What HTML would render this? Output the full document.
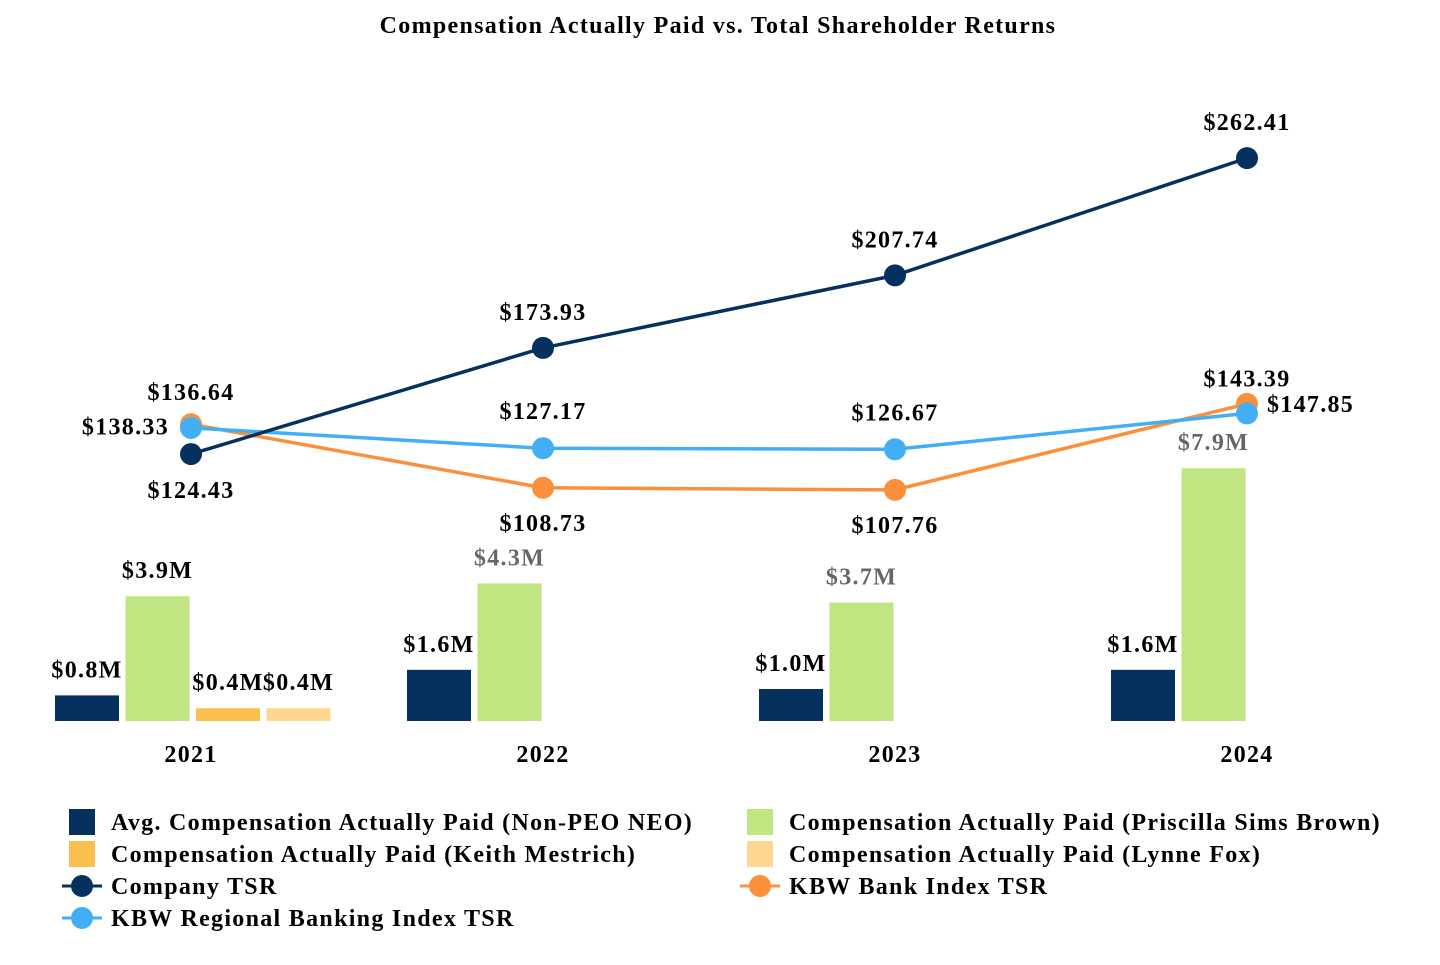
<!DOCTYPE html>
<html><head><meta charset="utf-8"><style>
body{margin:0;background:#fff;}
svg text{font-family:"Liberation Serif",serif;font-weight:bold;letter-spacing:1.3px;}
</style></head><body>
<svg id="chart" width="1440" height="960" xmlns="http://www.w3.org/2000/svg">
<text x="718" y="33" text-anchor="middle" font-size="24">Compensation Actually Paid vs. Total Shareholder Returns</text>
<g id="bars"></g><g id="lines"></g><g id="labels"></g>
<g id="legend" font-size="24">
<rect x="69" y="809" width="26" height="26" fill="#06305e"/>
<text x="111" y="830">Avg. Compensation Actually Paid (Non-PEO NEO)</text>
<rect x="747" y="809" width="26" height="26" fill="#bfe681"/>
<text x="789" y="830">Compensation Actually Paid (Priscilla Sims Brown)</text>
<rect x="69" y="841" width="26" height="26" fill="#fbbf4f"/>
<text x="111" y="862">Compensation Actually Paid (Keith Mestrich)</text>
<rect x="747" y="841" width="26" height="26" fill="#fdd78f"/>
<text x="789" y="862">Compensation Actually Paid (Lynne Fox)</text>
<line x1="62" y1="886" x2="102" y2="886" stroke="#06305e" stroke-width="3"/>
<circle cx="82" cy="886" r="11" fill="#06305e"/>
<text x="111" y="894">Company TSR</text>
<line x1="740" y1="886" x2="780" y2="886" stroke="#fc8f3a" stroke-width="3"/>
<circle cx="760" cy="886" r="11" fill="#fc8f3a"/>
<text x="789" y="894">KBW Bank Index TSR</text>
<line x1="62" y1="918" x2="102" y2="918" stroke="#42aef5" stroke-width="3"/>
<circle cx="82" cy="918" r="11" fill="#42aef5"/>
<text x="111" y="926">KBW Regional Banking Index TSR</text>
</g>
</svg>
<script>
const years=["2021","2022","2023","2024"];
const nonPeo=[0.8,1.6,1.0,1.6];
const brown=[3.9,4.3,3.7,7.9];
const mestrich=[0.4,null,null,null];
const fox=[0.4,null,null,null];
const companyTSR=[124.43,173.93,207.74,262.41];
const kbwBank=[138.33,108.73,107.76,147.85];
const kbwRegional=[136.64,127.17,126.67,143.39];
const NS="http://www.w3.org/2000/svg";
const base=721;
function xC(i){return 191+i*352;}
function yBar(v){return base-v*32;}
function yTsr(v){return base-v*2.145;}
function mk(tag,attrs,parent){const e=document.createElementNS(NS,tag);for(const k in attrs)e.setAttribute(k,attrs[k]);document.getElementById(parent).appendChild(e);return e;}
function txt(x,y,s,anchor,fill,parent){const t=mk('text',{x:x,y:y,'text-anchor':anchor,'font-size':24,fill:fill},parent);t.textContent=s;return t;}
const series=[[nonPeo,"#06305e","non-peo"],[brown,"#bfe681","brown"],[mestrich,"#fbbf4f","mestrich"],[fox,"#fdd78f","fox"]];
years.forEach((yr,i)=>{
  const t=txt(xC(i),762,yr,'middle','#000','labels');
  
  
  series.forEach((s,k)=>{
    const v=s[0][i]; if(v==null)return;
    const x=xC(i)-136+k*70.5;
    const r=mk('rect',{x:x,y:yBar(v),width:64,height:base-yBar(v),fill:s[1]},'bars');
    
    
    const col=(k===1&&i>0)?"#666":"#000";
    const l=txt(x+32,yBar(v)-18,'$'+v.toFixed(1)+'M','middle',col,'labels');
    
    
  });
});
const lineSeries=[[kbwBank,"#fc8f3a","kbw-bank"],[kbwRegional,"#42aef5","kbw-regional"],[companyTSR,"#06305e","company-tsr"]];
lineSeries.forEach(s=>{
  const pts=s[0].map((v,i)=>xC(i)+','+yTsr(v)).join(' ');
  const pl=mk('polyline',{points:pts,fill:'none',stroke:s[1],'stroke-width':3.5},'lines');
  
  
  s[0].forEach((v,i)=>{
    const c=mk('circle',{cx:xC(i),cy:yTsr(v),r:11,fill:s[1]},'lines');
    
    
  });
});
function lab(v,i,dx,dy,anchor,name){const t=txt(xC(i)+dx,yTsr(v)+dy,'$'+v.toFixed(2),anchor,'#000','labels');
  
  }
companyTSR.forEach((v,i)=>{ if(i===0)lab(v,i,0,44,'middle','label-company-tsr-'+years[i]); else lab(v,i,0,-28,'middle','label-company-tsr-'+years[i]);});
kbwBank.forEach((v,i)=>{ if(i===0)lab(v,i,-22,10,'end','label-kbw-bank-'+years[i]); else if(i===3)lab(v,i,20,8,'start','label-kbw-bank-'+years[i]); else lab(v,i,0,43,'middle','label-kbw-bank-'+years[i]);});
kbwRegional.forEach((v,i)=>{ if(i===0)lab(v,i,0,-28,'middle','label-kbw-regional-'+years[i]); else if(i===3)lab(v,i,0,-27,'middle','label-kbw-regional-'+years[i]); else lab(v,i,0,-29,'middle','label-kbw-regional-'+years[i]);});
</script>
</body></html>
